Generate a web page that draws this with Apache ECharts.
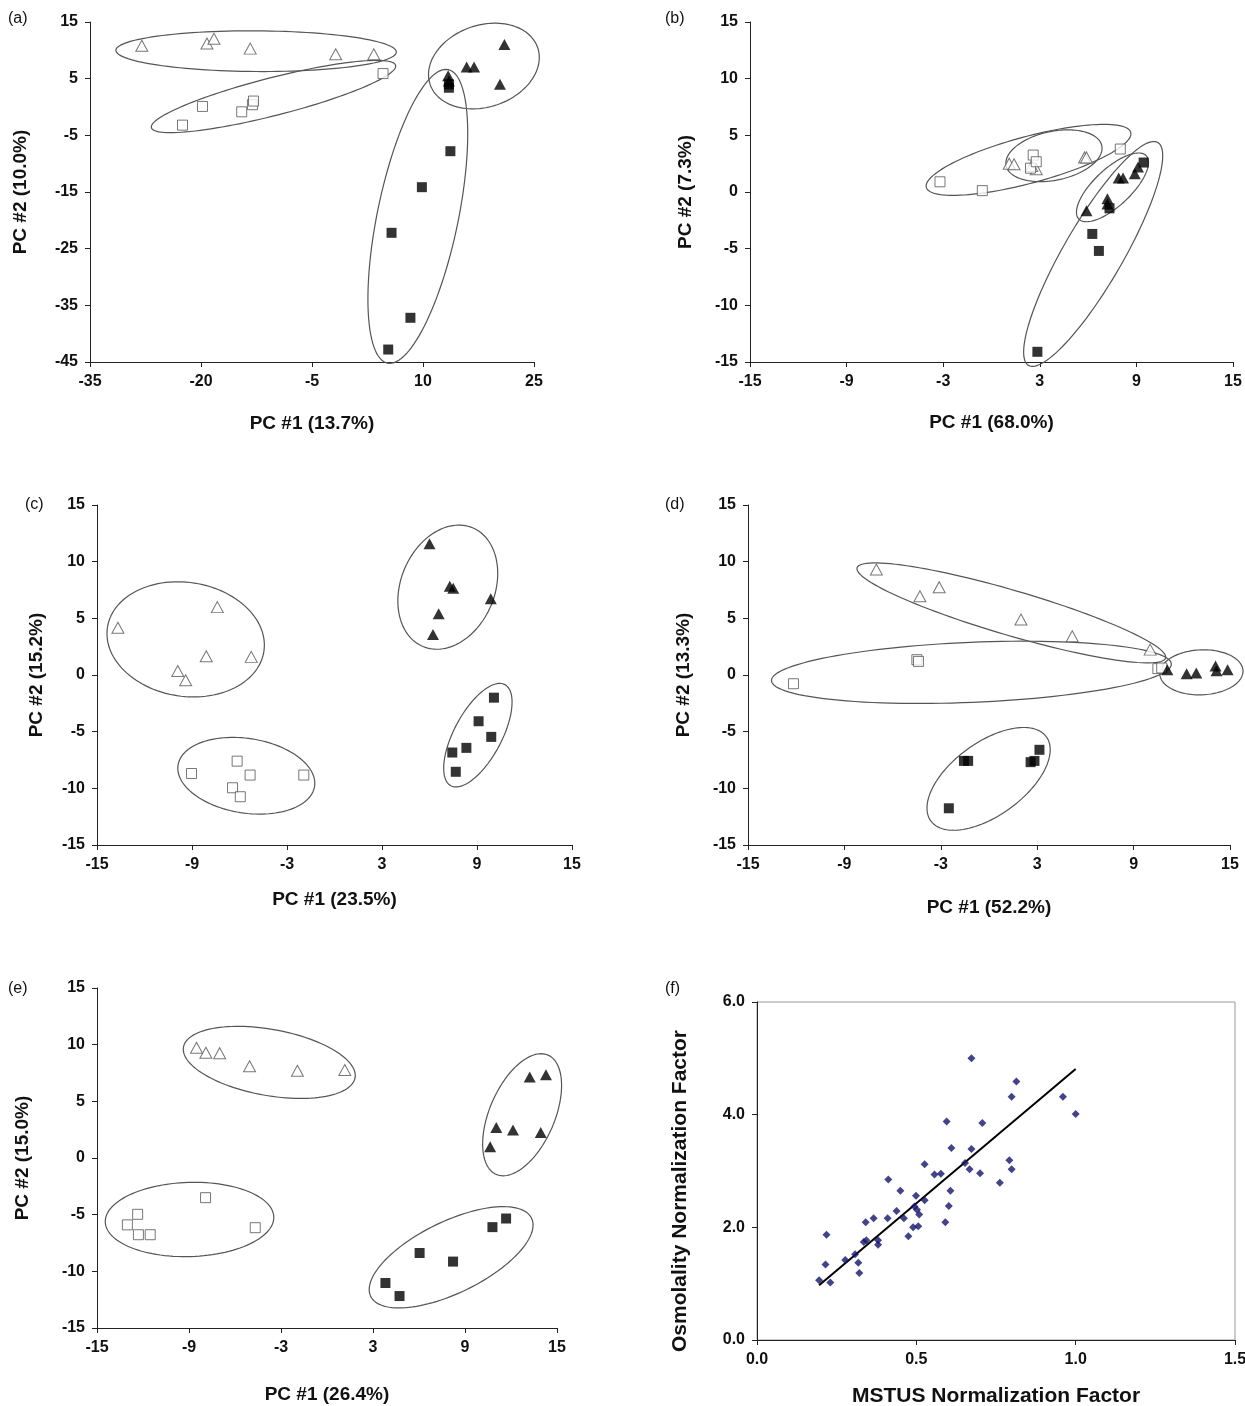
<!DOCTYPE html>
<html><head><meta charset="utf-8">
<script src="https://cdn.jsdelivr.net/npm/echarts@6/dist/echarts.min.js"></script>
<style>html,body{margin:0;background:#fff}#c{width:1245px;height:1406px}</style>
</head><body><div id="c"></div>
<script>
// ---------- Panel (a) ----------
const aOpenTri = [[-28.0,10.8],[-19.2,11.2],[-18.25,12.05],[-13.35,10.3],[-1.8,9.3],[3.35,9.3]];
const aOpenSq  = [[-22.5,-3.2],[-19.8,0.1],[-14.5,-0.85],[-13.05,0.4],[-12.9,1.05],[4.6,5.9]];
const aFillTri = [[13.4,5.5],[13.5,4.6],[15.9,7.05],[16.9,7.05],[21.0,11.05],[20.4,4.0]];
const aFillSq  = [[13.5,4.0],[13.5,3.4],[13.7,-7.8],[9.85,-14.15],[5.75,-22.2],[8.3,-37.2],[5.3,-42.8]];
const aEllipses = [[-31.5,10.0,6.4,9.7,0.145],[-26.7,-3.65,6.3,7.35,0.15],[5.2,-45.2,13.4,6.6,0.27],[10.96,3.99,25.5,10.47,0.72]];
const aXTicks = [-35,-20,-5,10,25];
const aYTicks = [-45,-35,-25,-15,-5,5,15];

// ---------- Panel (b) ----------
const bOpenTri = [[1.1,2.5],[1.4,2.45],[2.78,2.0],[2.5,2.3],[5.78,3.05],[5.9,3.05]];
const bOpenSq  = [[-3.2,0.9],[-0.57,0.12],[2.59,3.26],[2.42,2.1],[2.78,2.67],[8.0,3.79]];
const bFillTri = [[5.9,-1.65],[7.2,-0.6],[7.2,-1.05],[7.9,1.23],[8.17,1.23],[8.9,1.6],[9.1,2.2]];
const bFillSq  = [[7.33,-1.44],[9.45,2.6],[6.26,-3.7],[6.67,-5.2],[2.85,-14.1]];
const bEllipses = [[-4.05,0.41,8.65,5.26,0.22],[0.91,2.32,6.85,4.08,0.5],[2.3,-15.3,10.33,4.37,0.23],[5.42,-2.38,9.61,3.2,0.4]];

// ---------- Panel (c) ----------
const cOpenTri = [[-13.68,4.17],[-7.4,5.99],[-8.1,1.65],[-5.26,1.6],[-9.9,0.35],[-9.4,-0.47]];
const cOpenSq  = [[-9.03,-8.69],[-6.15,-7.6],[-5.33,-8.83],[-6.44,-9.95],[-5.95,-10.74],[-1.94,-8.83]];
const cFillTri = [[6.0,11.57],[7.28,7.84],[7.5,7.66],[6.58,5.4],[6.22,3.58],[9.87,6.72]];
const cFillSq  = [[10.07,-2.0],[9.1,-4.08],[9.9,-5.46],[8.33,-6.43],[7.44,-6.84],[7.66,-8.54]];
const cEllipses = [[-14.34,4.21,-4.46,2.08,0.72],[-9.88,-7.95,-1.26,-9.83,0.54],[8.72,12.99,5.59,2.51,0.73],[10.76,-0.85,7.35,-9.77,0.415]];

// ---------- Panel (d) ----------
const dOpenTri = [[-7.01,9.31],[-4.3,6.95],[-3.1,7.75],[1.99,4.89],[5.18,3.42],[10.03,2.24]];
const dOpenSq  = [[-12.17,-0.77],[-4.49,1.35],[-4.39,1.2],[10.51,0.56],[10.75,0.62]];
const dFillTri = [[11.1,0.47],[12.3,0.12],[12.9,0.18],[14.1,0.8],[14.16,0.38],[14.85,0.47]];
const dFillSq  = [[-1.56,-7.58],[-1.3,-7.58],[3.14,-6.6],[2.59,-7.69],[2.83,-7.58],[-2.5,-11.76]];
const dEllipses = [[-8.21,9.46,10.99,1.5,0.14],[-13.54,-0.5,11.35,0.97,0.15],[10.63,0.09,15.81,0.38,0.54],[3.57,-5.45,-3.62,-12.88,0.51]];

// ---------- Panel (e) ----------
const eOpenTri = [[-8.51,9.73],[-7.9,9.28],[-7.0,9.25],[-5.05,8.1],[-1.93,7.7],[1.16,7.76]];
const eOpenSq  = [[-7.92,-3.5],[-12.35,-4.97],[-13.02,-5.9],[-12.3,-6.77],[-11.53,-6.77],[-4.68,-6.15]];
const eFillTri = [[13.22,7.14],[14.28,7.34],[11.04,2.69],[12.13,2.46],[13.94,2.24],[10.64,0.99]];
const eFillSq  = [[11.68,-5.34],[10.79,-6.1],[6.04,-8.38],[8.22,-9.14],[3.81,-11.03],[4.73,-12.18]];
const eEllipses = [[-9.36,9.79,1.83,7.08,0.38],[-14.46,-5.65,-3.47,-5.2,0.44],[14.41,9.08,11.04,-1.45,0.5],[13.34,-5.31,2.85,-12.21,0.4]];

const pcXTicks = [-15,-9,-3,3,9,15];
const pcYTicks = [-15,-10,-5,0,5,10,15];

// ---------- Panel (f) ----------
const fMstus = [0.195,0.23,0.215,0.218,0.277,0.308,0.318,0.321,0.335,0.343,0.341,0.366,0.38,0.38,0.41,0.412,0.438,0.45,0.461,0.475,0.49,0.494,0.499,0.502,0.506,0.509,0.526,0.526,0.557,0.577,0.591,0.595,0.602,0.607,0.61,0.653,0.667,0.673,0.673,0.70,0.707,0.762,0.792,0.799,0.799,0.814,0.96,1.0];
const fOsmo  = [1.06,1.02,1.34,1.87,1.42,1.52,1.37,1.19,1.74,1.77,2.09,2.16,1.77,1.69,2.16,2.85,2.29,2.65,2.16,1.84,2.0,2.37,2.56,2.31,2.02,2.23,2.48,3.12,2.94,2.95,2.09,3.88,2.38,2.65,3.41,3.14,3.03,3.39,5.0,2.96,3.85,2.79,3.19,3.03,4.32,4.59,4.32,4.01];
const fFitLine = [[0.195,0.97],[1.0,4.81]];
const fXTicks = [0,0.5,1.0,1.5];
const fYTicks = [0,2,4,6];

// ---------- build ----------
const FONT = 'Liberation Sans, Arial, sans-serif';
const AXC = '#222';

const panels = [
  {lab:'(a)', labPos:[8,11], grid:{left:90,top:22,width:444,height:340}, xr:[-35,25], yr:[-45,15], xt:aXTicks, yt:aYTicks,
   xName:'PC #1 (13.7%)', yName:'PC #2 (10.0%)', xGap:52, yGap:60, ot:aOpenTri, os:aOpenSq, ft:aFillTri, fs:aFillSq, el:aEllipses},
  {lab:'(b)', labPos:[665,11], grid:{left:750,top:22,width:483,height:340}, xr:[-15,15], yr:[-15,15], xt:pcXTicks, yt:pcYTicks,
   xName:'PC #1 (68.0%)', yName:'PC #2 (7.3%)', xGap:51, yGap:55, ot:bOpenTri, os:bOpenSq, ft:bFillTri, fs:bFillSq, el:bEllipses},
  {lab:'(c)', labPos:[25,497], grid:{left:97,top:505,width:475,height:340}, xr:[-15,15], yr:[-15,15], xt:pcXTicks, yt:pcYTicks,
   xName:'PC #1 (23.5%)', yName:'PC #2 (15.2%)', xGap:45, yGap:51, ot:cOpenTri, os:cOpenSq, ft:cFillTri, fs:cFillSq, el:cEllipses},
  {lab:'(d)', labPos:[665,497], grid:{left:748,top:505,width:482,height:340}, xr:[-15,15], yr:[-15,15], xt:pcXTicks, yt:pcYTicks,
   xName:'PC #1 (52.2%)', yName:'PC #2 (13.3%)', xGap:53, yGap:55, ot:dOpenTri, os:dOpenSq, ft:dFillTri, fs:dFillSq, el:dEllipses},
  {lab:'(e)', labPos:[8,981], grid:{left:97,top:988,width:460,height:340}, xr:[-15,15], yr:[-15,15], xt:pcXTicks, yt:pcYTicks,
   xName:'PC #1 (26.4%)', yName:'PC #2 (15.0%)', xGap:57, yGap:65, ot:eOpenTri, os:eOpenSq, ft:eFillTri, fs:eFillSq, el:eEllipses}
];

function renderEllipse(params, api){
  const p1 = api.coord([api.value(0), api.value(1)]);
  const p2 = api.coord([api.value(2), api.value(3)]);
  const cx=(p1[0]+p2[0])/2, cy=(p1[1]+p2[1])/2;
  const dx=p2[0]-p1[0], dy=p2[1]-p1[1];
  const a=Math.hypot(dx,dy)/2, b=a*api.value(4), th=Math.atan2(dy,dx);
  const pts=[];
  for(let k=0;k<120;k++){
    const t=k/120*2*Math.PI, ex=a*Math.cos(t), ey=b*Math.sin(t);
    pts.push([cx+ex*Math.cos(th)-ey*Math.sin(th), cy+ex*Math.sin(th)+ey*Math.cos(th)]);
  }
  return {type:'polygon', shape:{points:pts}, style:{fill:'none', stroke:'#555', lineWidth:1.2}, silent:true};
}

const grids=[], xAxes=[], yAxes=[], series=[], titles=[];
function axisBase(min,max,ticks,name,gap,fmt,labSize,nameSize,namePad){
  return {type:'value', min, max, name, nameLocation:'middle', nameGap:gap,
    nameTextStyle:{fontFamily:FONT, fontWeight:'bold', fontSize:nameSize, color:'#111', padding:namePad||0},
    axisLine:{show:true, onZero:false, lineStyle:{color:AXC, width:1}},
    axisTick:{show:true, length:5, customValues:ticks, lineStyle:{color:AXC, width:1}},
    axisLabel:{customValues:ticks, fontFamily:FONT, fontWeight:'bold', fontSize:labSize, color:'#111', margin:12, formatter:fmt},
    splitLine:{show:false}};
}
const intFmt = v => String(Math.round(v));

panels.forEach((p,i)=>{
  grids.push(Object.assign({outerBoundsMode:'none', containLabel:false}, p.grid));
  xAxes.push(Object.assign({gridIndex:i}, axisBase(p.xr[0],p.xr[1],p.xt,p.xName,p.xGap,intFmt,16,19)));
  yAxes.push(Object.assign({gridIndex:i}, axisBase(p.yr[0],p.yr[1],p.yt,p.yName,p.yGap,intFmt,16,19)));
  titles.push({text:p.lab, left:p.labPos[0], top:p.labPos[1], padding:0, textStyle:{fontFamily:FONT, fontSize:16, fontWeight:'normal', color:'#111'}});
  series.push({type:'custom', xAxisIndex:i, yAxisIndex:i, renderItem:renderEllipse, clip:false, silent:true, z:1,
    dimensions:['x1','y1','x2','y2','r'], encode:{x:['x1','x2'], y:['y1','y2']}, data:p.el});
  const open = {color:'#fff', borderColor:'#555', borderWidth:1};
  series.push({type:'scatter', xAxisIndex:i, yAxisIndex:i, symbol:'triangle', symbolSize:[12,11], itemStyle:open, data:p.ot, z:3, silent:true});
  series.push({type:'scatter', xAxisIndex:i, yAxisIndex:i, symbol:'rect', symbolSize:10, itemStyle:open, data:p.os, z:3, silent:true});
  series.push({type:'scatter', xAxisIndex:i, yAxisIndex:i, symbol:'triangle', symbolSize:[12,11], itemStyle:{color:'#000'}, data:p.ft, z:4, silent:true});
  series.push({type:'scatter', xAxisIndex:i, yAxisIndex:i, symbol:'rect', symbolSize:10, itemStyle:{color:'#000'}, data:p.fs, z:4, silent:true});
});

// panel f
const fi = panels.length;
grids.push({outerBoundsMode:'none', containLabel:false, left:757, top:1002, width:478, height:338, show:true, borderColor:'#9a9a9a', borderWidth:1, backgroundColor:'transparent'});
xAxes.push(Object.assign({gridIndex:fi}, axisBase(0,1.5,fXTicks,'MSTUS Normalization Factor',46,v=>v.toFixed(1),16,21)));
yAxes.push(Object.assign({gridIndex:fi}, axisBase(0,6,fYTicks,'Osmolality Normalization Factor',66,v=>v.toFixed(1),16,21,[0,40,0,0])));
titles.push({text:'(f)', left:665, top:981, padding:0, textStyle:{fontFamily:FONT, fontSize:16, fontWeight:'normal', color:'#111'}});
series.push({type:'line', xAxisIndex:fi, yAxisIndex:fi, data:fFitLine, symbol:'none', lineStyle:{color:'#000', width:2}, z:2, silent:true});
series.push({type:'scatter', xAxisIndex:fi, yAxisIndex:fi, symbol:'diamond', symbolSize:8, itemStyle:{color:'#14146e'},
  data:fMstus.map((x,k)=>[x,fOsmo[k]]), z:3, silent:true});

const chart = echarts.init(document.getElementById('c'), null, {renderer:'canvas'});
chart.setOption({backgroundColor:'#fff', animation:false, title:titles, grid:grids, xAxis:xAxes, yAxis:yAxes, series});
</script></body></html>
